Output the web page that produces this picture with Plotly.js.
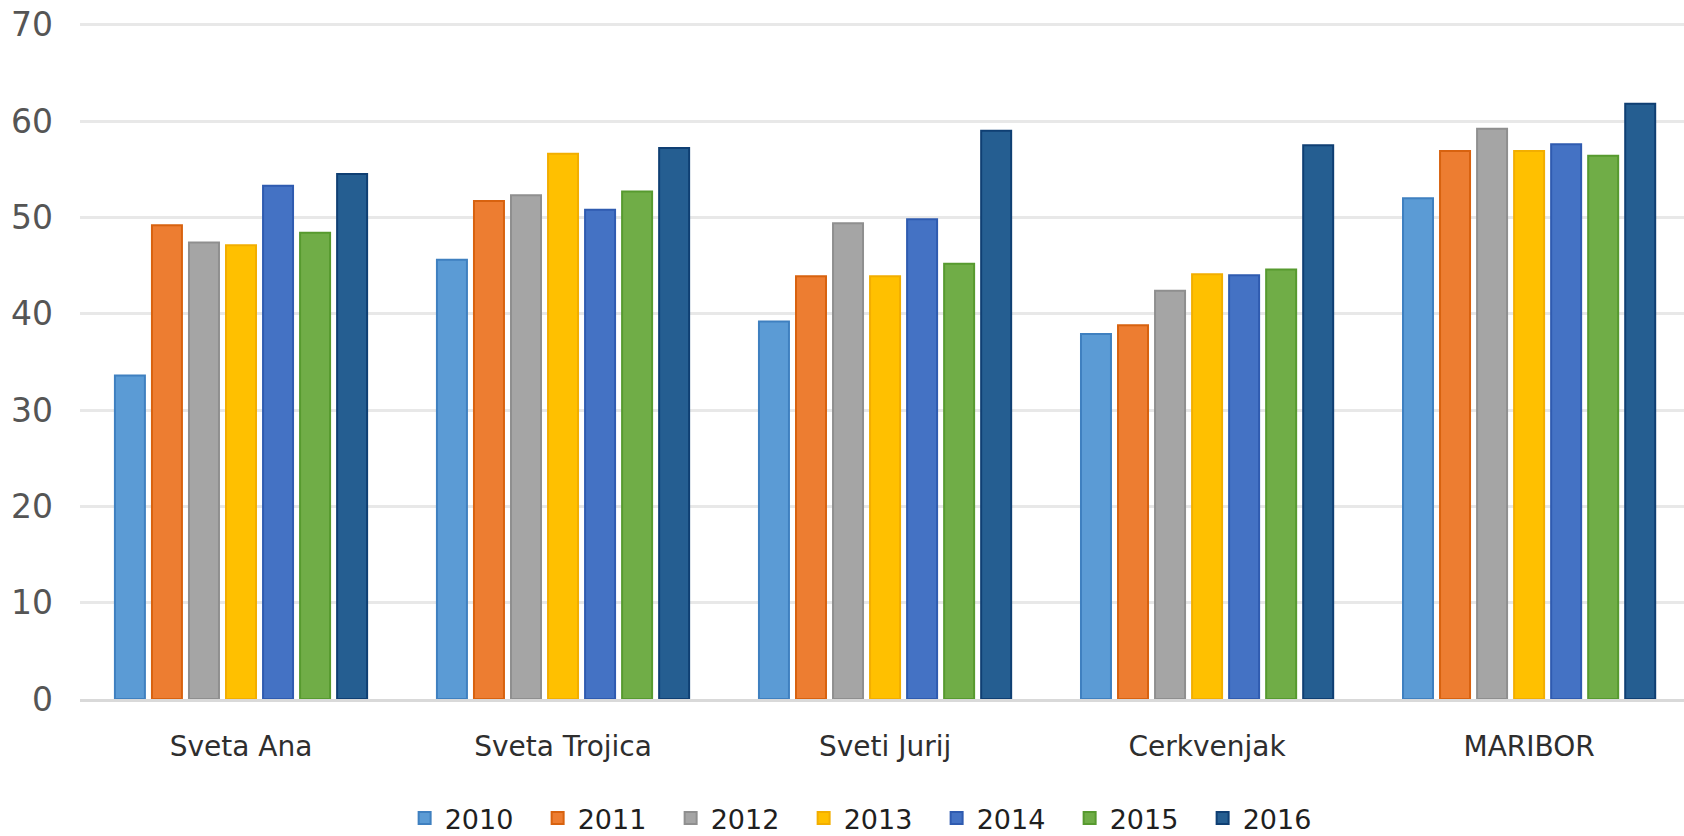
<!DOCTYPE html>
<html>
<head>
<meta charset="utf-8">
<script src="https://cdn.plot.ly/plotly-3.0.1.min.js"></script>
<style>html,body{margin:0;padding:0;background:#fff;}#chart{width:1684px;height:836px;}</style>
</head>
<body>
<div id="chart"></div>
<script>
const categories = ["Sveta Ana", "Sveta Trojica", "Sveti Jurij", "Cerkvenjak", "MARIBOR"];
const years = ["2010", "2011", "2012", "2013", "2014", "2015", "2016"];
const v2010 = [33.6, 45.6, 39.2, 37.9, 52.0];
const v2011 = [49.2, 51.7, 43.9, 38.8, 56.9];
const v2012 = [47.4, 52.3, 49.4, 42.4, 59.2];
const v2013 = [47.1, 56.6, 43.9, 44.1, 56.9];
const v2014 = [53.3, 50.8, 49.8, 44.0, 57.6];
const v2015 = [48.4, 52.7, 45.2, 44.6, 56.4];
const v2016 = [54.5, 57.2, 59.0, 57.5, 61.8];
const series = [v2010, v2011, v2012, v2013, v2014, v2015, v2016];
const fillColors = ["#5B9BD5", "#ED7D31", "#A5A5A5", "#FFC000", "#4472C4", "#70AD47", "#255E91"];
const edgeColors = ["#3f80c0", "#d8620f", "#8f8f8f", "#f2ae00", "#2f5bb0", "#579a2f", "#0f3f73"];

const traces = series.map((vals, i) => ({
  type: "bar",
  name: years[i],
  x: categories,
  y: vals,
  marker: { color: fillColors[i], line: { color: edgeColors[i], width: 2 } },
  hoverinfo: "x+y+name"
}));

const layout = {
  width: 1684,
  height: 836,
  margin: { l: 80, r: 0, t: 20, b: 137, autoexpand: false },
  paper_bgcolor: "#ffffff",
  plot_bgcolor: "#ffffff",
  barmode: "group",
  bargap: 0.195,
  bargroupgap: 0.19,
  font: { family: "DejaVu Sans, sans-serif", color: "#404040" },
  xaxis: {
    type: "category",
    range: [-0.5, 4.481],
    showgrid: false,
    showline: true,
    linecolor: "#d9d9d9",
    linewidth: 3,
    ticks: "",
    ticklabelstandoff: 20,
    tickfont: { family: "DejaVu Sans, sans-serif", size: 28, color: "#2e2e2e" },
    zeroline: false,
    automargin: false,
    fixedrange: true
  },
  yaxis: {
    range: [0, 70.5],
    dtick: 10,
    tick0: 0,
    showgrid: true,
    gridcolor: "#e8e8e8",
    gridwidth: 3,
    showline: false,
    zeroline: false,
    ticks: "",
    ticklabelstandoff: 26,
    tickfont: { family: "DejaVu Sans, sans-serif", size: 33, color: "#555555" },
    automargin: false,
    fixedrange: true
  },
  showlegend: true,
  legend: {
    orientation: "h",
    x: 0.4926,
    xanchor: "center",
    y: -0.176,
    yanchor: "middle",
    font: { family: "DejaVu Sans, sans-serif", size: 27, color: "#1f1f1f" },
    entrywidth: 88,
    itemwidth: 30,
    traceorder: "normal"
  }
};

Plotly.newPlot("chart", traces, layout, { displayModeBar: false, staticPlot: true });
</script>
</body>
</html>
